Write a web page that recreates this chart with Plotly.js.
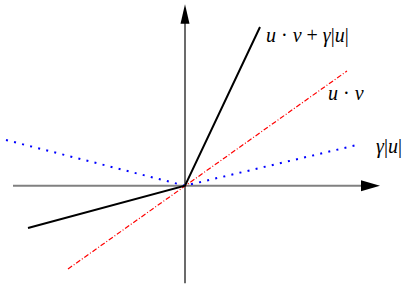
<!DOCTYPE html>
<html>
<head>
<meta charset="utf-8">
<script src="https://cdn.plot.ly/plotly-3.0.1.min.js"></script>
<style>html,body{margin:0;padding:0;background:#fff;}#chart{width:415px;height:286px;}</style>
</head>
<body>
<div id="chart"></div>
<script>
// Series (origin at 0,0; 1 unit = 100 px)
const sumU = [-1.57, 0, 0.75];
const sumV = [-0.423, 0, 1.587];
const dotU = [-1.17, 0, 1.62];
const dotV = [-0.833, 0, 1.147];
const absU = [-1.79, 0, 1.72];
const absV = [0.457, 0, 0.407];
const labels = ['<i>u</i> · <i>v</i> + <i>γ</i>|<i>u</i>|', '<i>u</i> · <i>v</i>', '<i>γ</i>|<i>u</i>|'];
const labelU = [0.79, 1.41, 1.89];
const labelV = [1.50, 0.93, 0.39];

const traces = [
  {x: absU, y: absV, mode: 'lines', line: {color: '#0000ff', width: 2, dash: '2px,6.3px'}, hoverinfo: 'skip'},
  {x: dotU, y: dotV, mode: 'lines', line: {color: '#ff0000', width: 1.2, dash: '5px,2px,1px,2px'}, hoverinfo: 'skip'},
  {x: sumU, y: sumV, mode: 'lines', line: {color: '#000000', width: 2}, hoverinfo: 'skip'}
];

const ax = {visible: false, showgrid: false, zeroline: false, fixedrange: true};
const shapes = [
  {type: 'line', x0: -1.72, y0: 0, x1: 1.77, y1: 0, line: {color: '#808080', width: 2}, layer: 'below'},
  {type: 'path', path: 'M 1.76 0.055 L 1.95 0 L 1.76 -0.055 Z', fillcolor: '#000', line: {width: 0}},
  {type: 'line', x0: 0, y0: -0.975, x1: 0, y1: 1.63, line: {color: '#3a3a3a', width: 1.5}, layer: 'below'},
  {type: 'path', path: 'M -0.045 1.62 L 0 1.815 L 0.045 1.62 Z', fillcolor: '#000', line: {width: 0}}
];
const annotations = labels.map((t, i) => ({
  x: labelU[i], y: labelV[i], xref: 'x', yref: 'y', text: t, showarrow: false,
  xanchor: 'left', yanchor: 'middle',
  font: {family: 'Liberation Serif', size: 20, color: '#000'}
}));

Plotly.newPlot('chart', traces, {
  width: 415, height: 286,
  margin: {l: 0, r: 0, t: 0, b: 0, pad: 0},
  paper_bgcolor: '#fff', plot_bgcolor: '#fff',
  showlegend: false,
  xaxis: Object.assign({range: [-1.85, 2.30]}, ax),
  yaxis: Object.assign({range: [-1.003, 1.857]}, ax),
  shapes: shapes,
  annotations: annotations
}, {staticPlot: true, displayModeBar: false});
</script>
</body>
</html>
